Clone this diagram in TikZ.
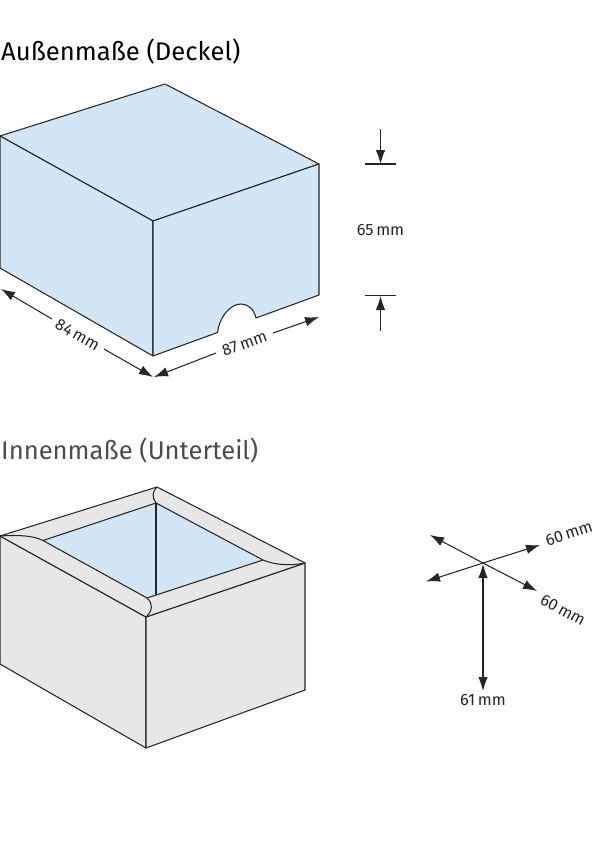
\documentclass[tikz,border=0pt]{standalone}
\usepackage{fontspec}
\setmainfont{Fira Sans}[Scale=1]
\usetikzlibrary{arrows.meta}
\definecolor{lblue}{HTML}{D2E6F5}
\definecolor{lgray}{HTML}{E7E7E7}
\definecolor{ink}{HTML}{262626}
\tikzset{
  outline/.style={draw=ink,line width=1.05pt,line join=round},
  dimline/.style={draw=ink,line width=1.05pt},
  tip/.style={-{Latex[length=14pt,width=9.5pt]}},
  tiptwo/.style={{Latex[length=14pt,width=9.5pt]}-{Latex[length=14pt,width=9.5pt]}},
  dimtext/.style={text=ink,font=\fontsize{16.3}{18}\selectfont,inner sep=0pt},
  heading/.style={anchor=west,inner sep=0pt,font=\fontsize{25.6}{30}\selectfont},
}
\begin{document}
\begin{tikzpicture}[x=1pt,y=-1pt]
\useasboundingbox (0,0) rectangle (600,857);
\fill[white] (0,0) rectangle (600,857);
% headings
\node[heading,text=black] (h1) at (1,52) {Außenmaße (Deckel)};
\node[heading,text=black!70] (h2) at (1,451) {Innenmaße (Unterteil)};
% lid
\path[outline,fill=lblue] (0,136) -- (165,84) -- (319,164) -- (153,221) -- cycle;
\path[outline,fill=lblue] (0,136) -- (153,221) -- (153,356) -- (0,268) -- cycle;
\path[outline,fill=lblue] (153,221) -- (319,164) -- (319,295) -- (256,318)
  .. controls (254,309) and (248,304) .. (241,304)
  .. controls (229,304) and (219,319) .. (217.5,332.5) -- (153,356) -- cycle;
% lid dimensions
\coordinate (a1) at (1,289); \coordinate (a2) at (52,319);
\coordinate (a3) at (104,349); \coordinate (a4) at (153,377);
\coordinate (b1) at (154,377); \coordinate (b2) at (216,353);
\coordinate (b3) at (273,333); \coordinate (b4) at (319,317);
\draw[dimline,tip] (a2) -- (a1);
\draw[dimline,tip] (a3) -- (a4);
\draw[dimline,tip] (b2) -- (b1);
\draw[dimline,tip] (b3) -- (b4);
\node[dimtext,rotate=-30] (l84) at (77.5,335) {84\,mm};
\node[dimtext,rotate=20] (l87) at (244.5,343.5) {87\,mm};
\coordinate (c1) at (380.5,129); \coordinate (c2) at (380.5,164);
\coordinate (c3) at (365,164); \coordinate (c4) at (396,164);
\coordinate (d1) at (380.5,331); \coordinate (d2) at (380.5,296);
\coordinate (d3) at (365,295.5); \coordinate (d4) at (396,295.5);
\draw[dimline,tip] (c1) -- (c2);
\draw[dimline] (c3) -- (c4);
\draw[dimline,tip] (d1) -- (d2);
\draw[dimline] (d3) -- (d4);
\node[dimtext] (l65) at (380.5,230) {65\,mm};
% base
\path[outline,fill=lgray] (0,536) -- (146,617) -- (146,748) -- (0,664) -- cycle;
\path[outline,fill=lgray] (146,617) -- (305,563) -- (305,690) -- (146,748) -- cycle;
\path[outline,fill=lgray] (0,536) -- (157,487) -- (305,563) -- (146,617) -- cycle;
\path[outline,fill=lblue] (43,540.5) -- (156,503) -- (263,560) -- (147,598) -- cycle;
\draw[outline] (156,503) -- (156,595);
\draw[outline] (0,536) .. controls (16,535) and (32,535) .. (43,540.5);
\draw[outline] (157,487) .. controls (152,491) and (152,498) .. (156,503);
\draw[outline] (263,560) .. controls (275,565) and (290,566) .. (305,563);
\draw[outline] (147,598) .. controls (153,603) and (153,611) .. (146,617);
% inner dimensions
\coordinate (o) at (483,563);
\coordinate (e1) at (430,535); \coordinate (e2) at (537,591);
\coordinate (f1) at (426,581.5); \coordinate (f2) at (540,545);
\coordinate (g1) at (483,564); \coordinate (g2) at (483,691);
\draw[dimline,tip] (o) -- (e1);
\draw[dimline,tip] (o) -- (e2);
\draw[dimline,tip] (o) -- (f1);
\draw[dimline,tip] (o) -- (f2);
\draw[dimline,tiptwo] (g1) -- (g2);
\node[dimtext,rotate=18] (l60a) at (569,533.5) {60\,mm};
\node[dimtext,rotate=-28] (l60b) at (563,610) {60\,mm};
\node[dimtext] (l61) at (483,700) {61\,mm};
\end{tikzpicture}
\end{document}
